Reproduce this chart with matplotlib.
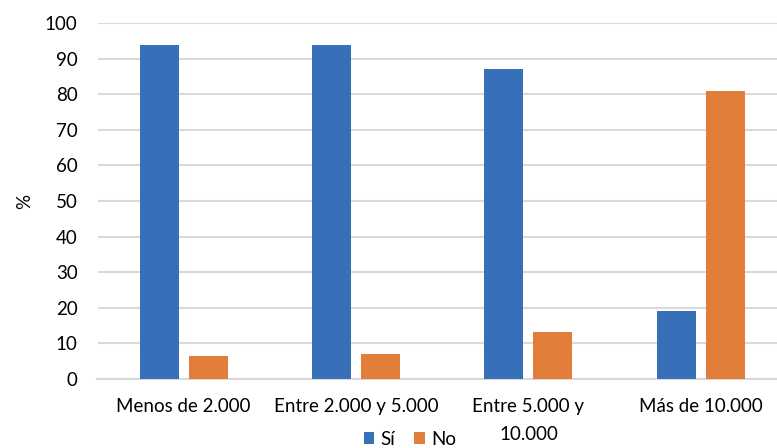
import numpy as np
import matplotlib
matplotlib.use("Agg")
import matplotlib.pyplot as plt

plt.rcParams['font.family'] = ['Lato', 'DejaVu Sans']

categorias = ["Menos de 2.000", "Entre 2.000 y 5.000", "Entre 5.000 y\n10.000", "Más de 10.000"]
si = [93.7, 93.7, 87.0, 19.1]
no = [6.4, 7.0, 13.1, 80.9]

azul = "#3770B9"
naranja = "#E27D3A"
gris = "#D9D9D9"
fs = 13.5

fig = plt.figure(figsize=(7.77, 4.48), dpi=100)
ax = fig.add_axes([97.5 / 777, 69 / 448, (777 - 97.5) / 777, 356 / 448])

x = np.arange(len(categorias))
w = 0.226
off = 0.142
ax.bar(x - off, si, w, color=azul, label="Sí", zorder=3)
ax.bar(x + off, no, w, color=naranja, label="No", zorder=3)

ax.set_xlim(-0.5, 3.5 - 10 / 172.4)
ax.set_ylim(0, 100)
ax.set_yticks(range(0, 101, 10))
ax.yaxis.grid(True, color=gris, linewidth=1.5, zorder=0)
ax.set_axisbelow(True)
for s in ["top", "right", "left"]:
    ax.spines[s].set_visible(False)
ax.spines["bottom"].set_color(gris)
ax.spines["bottom"].set_linewidth(1.5)
ax.tick_params(axis="both", length=0, labelsize=fs, colors="black")
ax.tick_params(axis="y", pad=14.4)
ax.tick_params(axis="x", pad=14)
ax.set_xticks(x)
ax.set_xticklabels(categorias, linespacing=1.75)

fig.text(25 / 777, 1 - 201 / 448, "%", rotation=90, ha="center", va="center", fontsize=fs)

fig.legend(loc="center", bbox_to_anchor=(410 / 777, 1 - 439 / 448), ncol=2,
           frameon=False, fontsize=fs, handlelength=0.55, handleheight=0.55,
           handletextpad=0.35, columnspacing=1.0, borderpad=0)

fig.savefig("out.png", dpi=100)
